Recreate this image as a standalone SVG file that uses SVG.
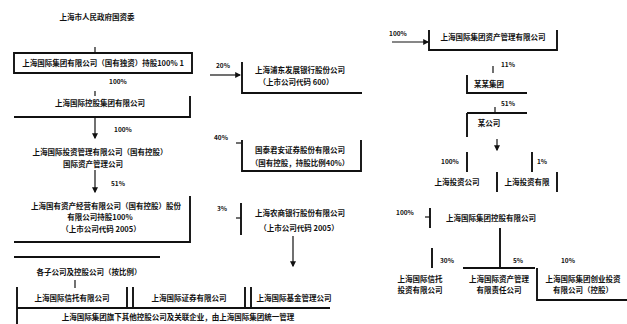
<svg xmlns="http://www.w3.org/2000/svg" width="627" height="324" viewBox="0 0 627 324">
<style>
text{font-family:"Noto Sans CJK SC","Noto Sans",sans-serif;font-size:7.5px;font-weight:bold;fill:#111;text-anchor:middle}
.l{stroke:#111;stroke-width:1.9;fill:none}
.c{stroke:#111;stroke-width:1.2;fill:none}
.p{font-size:6.5px}
</style>
<defs>
<marker id="ah" markerWidth="5" markerHeight="5" refX="4" refY="2.5" orient="auto"><path d="M0,0L5,2.5L0,5z" fill="#111"/></marker>
</defs>
<rect width="627" height="324" fill="#fff"/>
<g id="connectors">
<path class="c" d="M95,47V53"/>
<path class="c" d="M95,91V96"/>
<path class="c" d="M95,118V138" marker-end="url(#ah)"/>
<path class="c" d="M95,170V192" marker-end="url(#ah)"/>
<path class="c" d="M75,280V288"/>
<path class="c" d="M210,75H240" marker-end="url(#ah)"/>
<path class="c" d="M236,143H241"/>
<path class="c" d="M236,218H241"/>
<path class="c" d="M293,236V266" marker-end="url(#ah)"/>
<path class="c" d="M392,42H428" marker-end="url(#ah)"/>
<path class="c" d="M493,66V73"/>
<path class="c" d="M495,107V113"/>
<path class="c" d="M497,139V150" marker-end="url(#ah)"/>
<path class="c" d="M425,217H430"/>
<text class="p" x="118" y="84">100%</text>
<text class="p" x="123" y="132">100%</text>
<text class="p" x="118" y="186">51%</text>
<text class="p" x="223" y="68">20%</text>
<text class="p" x="221" y="140">40%</text>
<text class="p" x="222" y="211">3%</text>
<text class="p" x="398" y="36">100%</text>
<text class="p" x="508" y="67">11%</text>
<text class="p" x="508" y="106">51%</text>
<text class="p" x="450" y="164">100%</text>
<text class="p" x="542" y="164">1%</text>
<text class="p" x="405" y="215">100%</text>
<text class="p" x="447" y="263">30%</text>
<text class="p" x="518" y="263">5%</text>
<text class="p" x="568" y="263">10%</text>
</g>
<g id="n-title"><text x="97" y="20">上海市人民政府国资委</text></g>
<g id="n-group">
<path class="l" d="M14,53H192V73H14Z"/>
<text x="103" y="66">上海国际集团有限公司（国有独资）持股100% 1</text>
</g>
<g id="n-holding">
<path class="l" d="M190,96V117H14"/>
<text x="100" y="106">上海国际控股集团有限公司</text>
</g>
<g id="n-invest">
<text x="100" y="155">上海国际投资管理有限公司（国有控股）</text>
<text x="93" y="167">国际资产管理公司</text>
</g>
<g id="n-bank">
<path class="l" d="M190,196V242H14"/>
<text x="106" y="209">上海国有资产经营有限公司（国有控股）股份</text>
<text x="100" y="220">有限公司持股100%</text>
<text x="101" y="232">（上市公司代码 2005）</text>
</g>
<g id="n-sub">
<path class="l" d="M14,257H160"/>
<text x="89" y="275">各子公司及控股公司（按比例）</text>
</g>
<g id="n-row">
<path class="l" d="M17,287V308H330M127,287V308M133,287V308M245,287V308M251,287V308M17,308V324"/>
<text x="72" y="301">上海国际信托有限公司</text>
<text x="189" y="301">上海国际证券有限公司</text>
<text x="294" y="301">上海国际基金管理公司</text>
<text x="178" y="320">上海国际集团旗下其他控股公司及关联企业，由上海国际集团统一管理</text>
</g>
<g id="n-m1">
<path class="l" d="M242,62V93H362"/>
<text x="300" y="73">上海浦东发展银行股份公司</text>
<text x="296" y="85">（上市公司代码 600）</text>
</g>
<g id="n-m2">
<path class="l" d="M242,140V171H361V140"/>
<text x="300" y="153">国泰君安证券股份有限公司</text>
<text x="300" y="166">（国有控股，持股比例40%）</text>
</g>
<g id="n-m3">
<path class="l" d="M241,203V235"/>
<text x="300" y="216">上海农商银行股份有限公司</text>
<text x="299" y="231">（上市公司代码 2005）</text>
</g>
<g id="n-r1">
<path class="l" d="M429,30V50H557V30"/>
<text x="493" y="40">上海国际集团资产管理有限公司</text>
</g>
<g id="n-r2">
<path class="l" d="M467,75V93H527"/>
<text x="489" y="87">某某集团</text>
</g>
<g id="n-r3">
<path class="l" d="M467,113H527M467,113V137"/>
<text x="489" y="126">某公司</text>
</g>
<g id="n-r4">
<path class="l" d="M467,152V172M532,152V172"/>
<text x="457" y="185">上海投资公司</text>
</g>
<g id="n-r5">
<path class="l" d="M497,172V192M557,172V192"/>
<text x="527" y="185">上海投资有限</text>
</g>
<g id="n-r6">
<path class="l" d="M430,208V228"/>
<text x="491" y="221">上海国际集团控股有限公司</text>
</g>
<g id="n-r7">
<path class="l" d="M500,228V268M463,268H535M432,248V268"/>
<text x="420" y="282">上海国际信托</text>
<text x="420" y="293">投资有限公司</text>
</g>
<g id="n-r8">
<text x="499" y="282">上海国际资产管理</text>
<text x="499" y="293">有限责任公司</text>
</g>
<g id="n-r9">
<path class="l" d="M537,268V300H627"/>
<text x="583" y="282">上海国际集团创业投资</text>
<text x="583" y="293">有限公司（控股）</text>
</g>
</svg>
